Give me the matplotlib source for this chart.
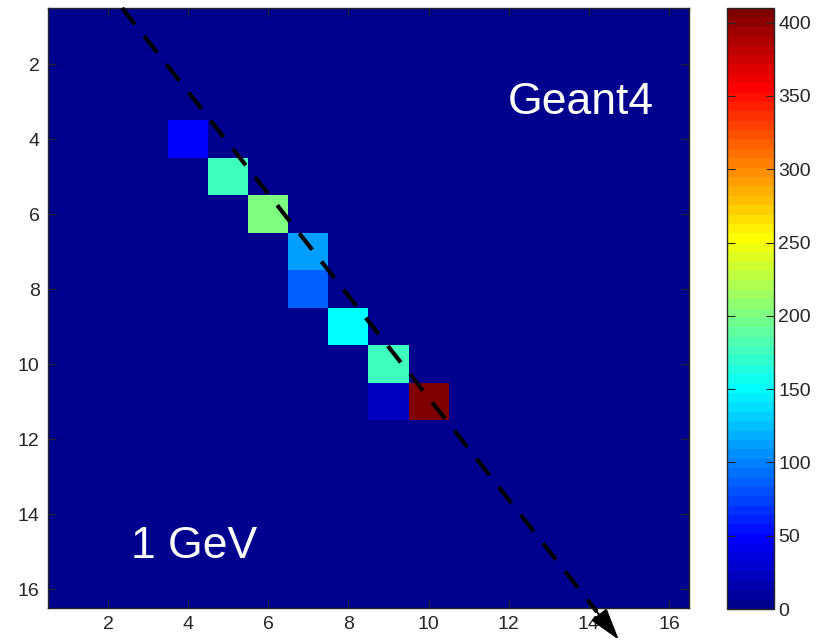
import numpy as np
import matplotlib.pyplot as plt
from matplotlib.colors import ListedColormap

plt.rcParams['font.family'] = ['Liberation Sans', 'DejaVu Sans']

# energy deposit per cell (row, col are 1-based like the axes)
rows = [4, 5, 6, 7, 8, 9, 10, 11, 11]
cols = [4, 5, 6, 7, 7, 8, 9, 9, 10]
edep = [48, 176, 202, 112, 86, 150, 176, 22, 410]
nside = 16
vmax = 410

# track direction (data coords): start, end of dashed line, arrow tip
track_x = [2.35, 14.2, 14.75]
track_y = [0.5, 16.6, 17.35]

ticks = [2, 4, 6, 8, 10, 12, 14, 16]
cticks = [0, 50, 100, 150, 200, 250, 300, 350, 400]


def jet64():
    # same construction as the classic 64 entry jet table
    m = 64
    n = m // 4
    u = np.concatenate([np.arange(1, n + 1) / n, np.ones(n - 1), np.arange(n, 0, -1) / n])
    g = n // 2 + np.arange(len(u))
    r = g + n
    b = g - n
    J = np.zeros((m, 3))
    for ch, idx in ((0, r), (1, g), (2, b)):
        ok = (idx >= 0) & (idx < m)
        J[idx[ok], ch] = u[ok]
    return ListedColormap(J)


M = np.zeros((nside, nside))
for r, c, v in zip(rows, cols, edep):
    M[r - 1, c - 1] = v

fig = plt.figure(figsize=(8.31, 6.40), dpi=100)
ax = fig.add_axes([48 / 831, 32 / 640, 641 / 831, 600 / 640])
cax = fig.add_axes([727 / 831, 31 / 640, 47 / 831, 601 / 640])

im = ax.imshow(M, cmap=jet64(), vmin=0, vmax=vmax, interpolation='nearest',
               aspect='auto', extent=(0.5, nside + 0.5, nside + 0.5, 0.5))

ax.plot(track_x[:2], track_y[:2], color='k', lw=3, dashes=(5, 3.6),
        dash_capstyle='butt', clip_on=False, zorder=5)
ax.annotate('', xy=(track_x[2], track_y[2]), xytext=(track_x[1], track_y[1]),
            arrowprops=dict(arrowstyle='-|>,head_length=1.0,head_width=0.3',
                            mutation_scale=20, color='k', lw=1.5, shrinkA=0, shrinkB=0),
            annotation_clip=False, zorder=6)
ax.set_xlim(0.5, nside + 0.5)
ax.set_ylim(nside + 0.5, 0.5)

ax.text((581 - 48) / 641, 1 - (103 - 8) / 600, 'Geant4', color='w', fontsize=32,
        ha='center', va='center', transform=ax.transAxes)
ax.text((194 - 48) / 641, 1 - (547 - 8) / 600, '1 GeV', color='w', fontsize=32,
        ha='center', va='center', transform=ax.transAxes)

ax.set_xticks(ticks)
ax.set_yticks(ticks)
ax.tick_params(direction='in', length=5.5, width=0.8, top=True, right=True,
               labelsize=14, pad=6, colors='#262626')
for s in ax.spines.values():
    s.set_linewidth(1.0)
    s.set_color('#262626')

cb = fig.colorbar(im, cax=cax, ticks=cticks)
cb.outline.set_linewidth(1.0)
cb.outline.set_edgecolor('#262626')
cax.tick_params(direction='in', length=5.5, width=0.8, left=True, right=True,
                labelsize=14, pad=3, colors='#262626')

fig.savefig('out.png', dpi=100)
